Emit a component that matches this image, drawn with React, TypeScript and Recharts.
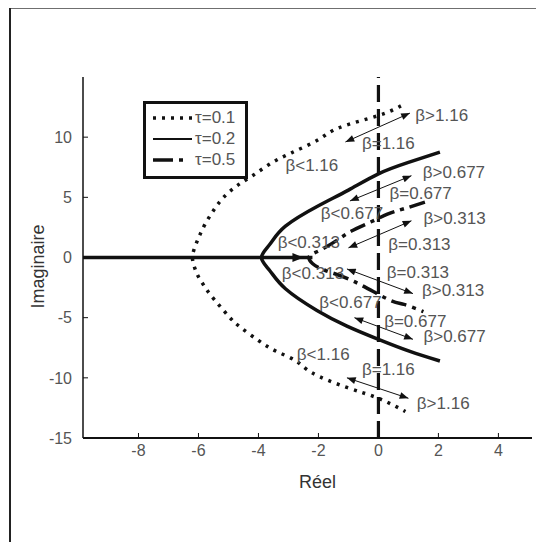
import { ComposedChart, Label, Legend, Line, ReferenceLine, Scatter, XAxis, YAxis } from "recharts"

type Pt = { x: number; y: number }

// tau = 0.1 (dotted), upper end -> vertex -> lower end
const tau01: Pt[] = [
  { x: 0.75, y: 12.6 }, { x: 0, y: 11.8 }, { x: -1.3, y: 10.8 }, { x: -2.0, y: 9.8 },
  { x: -2.9, y: 8.7 }, { x: -3.6, y: 7.8 }, { x: -4.2, y: 6.8 }, { x: -4.75, y: 5.9 },
  { x: -5.2, y: 4.9 }, { x: -5.5, y: 3.9 }, { x: -5.75, y: 2.9 }, { x: -5.95, y: 1.9 },
  { x: -6.1, y: 1.0 }, { x: -6.2, y: 0 }, { x: -6.12, y: -0.9 }, { x: -6.0, y: -1.6 },
  { x: -5.8, y: -2.4 }, { x: -5.6, y: -3.1 }, { x: -5.3, y: -4.0 }, { x: -4.95, y: -5.0 },
  { x: -4.6, y: -5.8 }, { x: -4.0, y: -6.9 }, { x: -3.4, y: -7.8 }, { x: -2.75, y: -8.6 },
  { x: -2.2, y: -9.6 }, { x: -1.05, y: -10.8 }, { x: 0, y: -11.7 }, { x: 0.9, y: -12.8 },
]

// tau = 0.2 (solid)
const tau02: Pt[] = [
  { x: 2.05, y: 8.75 }, { x: 1, y: 7.9 }, { x: 0, y: 6.95 }, { x: -1, y: 5.6 },
  { x: -2, y: 4.3 }, { x: -3.1, y: 2.6 }, { x: -3.62, y: 1.1 },
  { x: -3.9, y: 0 }, { x: -3.62, y: -1.1 }, { x: -3.1, y: -2.6 },
  { x: -2.05, y: -4.4 }, { x: -1.05, y: -5.7 }, { x: 0, y: -6.8 }, { x: 1.05, y: -7.8 },
  { x: 2.05, y: -8.6 },
]

// real axis part of the locus
const realAxis: Pt[] = [{ x: -9.85, y: 0 }, { x: -2.2, y: 0 }]

// tau = 0.5 (dash-dot)
const tau05: Pt[] = [
  { x: 1.55, y: 4.6 }, { x: 0.85, y: 4.05 }, { x: 0.3, y: 3.6 }, { x: -0.3, y: 2.9 },
  { x: -0.9, y: 2.2 }, { x: -1.4, y: 1.4 }, { x: -1.95, y: 0.6 }, { x: -2.3, y: 0.1 },
  { x: -2.2, y: -0.5 }, { x: -1.75, y: -1.1 }, { x: -0.85, y: -1.95 }, { x: 0.3, y: -3.45 },
  { x: 0.85, y: -3.9 }, { x: 1.5, y: -4.5 },
]

const arrows: [Pt, Pt][] = [
  [{ x: -1.1, y: 9.6 }, { x: 1.05, y: 12.0 }],
  [{ x: -0.95, y: 4.7 }, { x: 1.1, y: 6.8 }],
  [{ x: -1.0, y: 0.8 }, { x: 1.1, y: 3.05 }],
  [{ x: -1.05, y: -0.95 }, { x: 1.15, y: -3.0 }],
  [{ x: -0.8, y: -5.0 }, { x: 1.15, y: -6.8 }],
  [{ x: -1.05, y: -10.0 }, { x: 1.0, y: -11.7 }],
]

const realAxisArrow: [Pt, Pt] = [{ x: -3.2, y: 0 }, { x: -2.5, y: 0 }]

const betaLabels = [
  { x: 1.23, y: 11.8, text: "β>1.16" },
  { x: -0.55, y: 9.45, text: "β=1.16" },
  { x: -3.1, y: 7.65, text: "β<1.16" },
  { x: 1.48, y: 7.1, text: "β>0.677" },
  { x: 0.37, y: 5.3, text: "β=0.677" },
  { x: -1.92, y: 3.67, text: "β<0.677" },
  { x: 1.5, y: 3.2, text: "β>0.313" },
  { x: 0.33, y: 1.06, text: "β=0.313" },
  { x: -3.36, y: 1.25, text: "β<0.313" },
  { x: -3.22, y: -1.33, text: "β<0.313" },
  { x: 0.28, y: -1.25, text: "β=0.313" },
  { x: 1.45, y: -2.78, text: "β>0.313" },
  { x: -1.97, y: -3.75, text: "β<0.677" },
  { x: 0.19, y: -5.28, text: "β=0.677" },
  { x: 1.5, y: -6.6, text: "β>0.677" },
  { x: -2.72, y: -8.05, text: "β<1.16" },
  { x: -0.55, y: -9.3, text: "β=1.16" },
  { x: 1.28, y: -12.1, text: "β>1.16" },
]

const xTicks = [-8, -6, -4, -2, 0, 2, 4]
const yTicks = [-15, -10, -5, 0, 5, 10]
const legendLabels = ["τ=0.1", "τ=0.2", "τ=0.5"]
const xDomain: [number, number] = [-9.85, 5.12]
const yDomain: [number, number] = [-15, 15]

const FONT = "'Liberation Sans', Arial, Helvetica, sans-serif"
const INK = "#111"
const TEXT = "#555"
const dotted = "3 6"
const dashDot = "16 6 4 6"
const legendDash = [dotted, undefined, "20 6 4 40"]

const tickStyle = { fontSize: 16, fill: TEXT, fontFamily: FONT }

const renderLegend = () => (
  <div
    style={{
      width: 99,
      height: 69,
      border: `3.5px solid ${INK}`,
      paddingTop: 3,
      boxSizing: "content-box",
      background: "#fff",
      fontFamily: FONT,
      fontSize: 17,
      color: TEXT,
    }}
  >
    {legendLabels.map((label, i) => (
      <div key={label} style={{ display: "flex", alignItems: "center", height: 21 }}>
        <svg width={46} height={10} style={{ marginLeft: 7 }}>
          <line
            x1={0}
            y1={5}
            x2={39}
            y2={5}
            stroke={INK}
            strokeWidth={i === 1 ? 2 : 3.5}
            strokeDasharray={legendDash[i]}
          />
        </svg>
        <span style={{ marginLeft: -4 }}>{label}</span>
      </div>
    ))}
  </div>
)

const arrowShape = (props: any) => (
  <line
    x1={props.x1}
    y1={props.y1}
    x2={props.x2}
    y2={props.y2}
    stroke={INK}
    strokeWidth={1}
    markerStart="url(#arrowHead)"
    markerEnd="url(#arrowHead)"
  />
)

const realArrowShape = (props: any) => (
  <line
    x1={props.x1}
    y1={props.y1}
    x2={props.x2}
    y2={props.y2}
    stroke={INK}
    strokeWidth={3}
    markerEnd="url(#bigHead)"
  />
)

const labelShape = (props: any) => (
  <text
    x={props.cx}
    y={props.cy}
    dominantBaseline="central"
    fontSize={17}
    fontFamily={FONT}
    fill={TEXT}
  >
    {props.payload.text}
  </text>
)

const yTitle = (props: any) => {
  const vb = props.viewBox
  const cx = vb.x + 5
  const cy = vb.y + vb.height / 2 + 9
  return (
    <text
      x={cx}
      y={cy}
      transform={`rotate(-90 ${cx} ${cy})`}
      textAnchor="middle"
      dominantBaseline="central"
      fontSize={18}
      fontFamily={FONT}
      fill="#333"
    >
      Imaginaire
    </text>
  )
}

const xTitle = (props: any) => {
  const vb = props.viewBox
  return (
    <text
      x={vb.x + vb.width / 2 + 10}
      y={vb.y + 44}
      textAnchor="middle"
      dominantBaseline="central"
      fontSize={18}
      fontFamily={FONT}
      fill="#333"
    >
      Réel
    </text>
  )
}

export default function App() {
  return (
    <div style={{ position: "relative", width: 536, height: 534 }}>
      <ComposedChart
        width={536}
        height={540}
        margin={{ top: 69, right: 12, bottom: 70, left: 25 }}
      >
        <defs>
          <marker
            id="arrowHead"
            viewBox="0 0 10 8"
            markerUnits="userSpaceOnUse"
            markerWidth={10}
            markerHeight={7}
            refX={10}
            refY={4}
            orient="auto-start-reverse"
          >
            <path d="M0,0 L10,4 L0,8 z" fill={INK} />
          </marker>
          <marker
            id="bigHead"
            viewBox="0 0 10 8"
            markerUnits="userSpaceOnUse"
            markerWidth={11}
            markerHeight={9}
            refX={10}
            refY={4}
            orient="auto"
          >
            <path d="M0,0 L10,4 L0,8 z" fill={INK} />
          </marker>
        </defs>
        <XAxis
          xAxisId={0}
          dataKey="x"
          type="number"
          domain={xDomain}
          ticks={xTicks}
          allowDataOverflow
          height={40}
          tickSize={-5}
          tickMargin={12}
          tick={tickStyle}
          axisLine={{ stroke: INK, strokeWidth: 2 }}
          tickLine={{ stroke: INK }}
        >
          <Label content={xTitle} />
        </XAxis>
        <XAxis
          xAxisId="top"
          orientation="top"
          dataKey="x"
          type="number"
          domain={xDomain}
          ticks={xTicks}
          allowDataOverflow
          height={0}
          tickSize={-5}
          tick={false}
          axisLine={{ stroke: "#444" }}
          tickLine={{ stroke: INK }}
        />
        <YAxis
          yAxisId={0}
          type="number"
          domain={yDomain}
          ticks={yTicks}
          allowDataOverflow
          width={50}
          tickSize={-5}
          tickMargin={16}
          tick={tickStyle}
          axisLine={{ stroke: INK, strokeWidth: 1.5 }}
          tickLine={{ stroke: INK }}
        >
          <Label content={yTitle} />
        </YAxis>
        <YAxis
          yAxisId="right"
          orientation="right"
          type="number"
          domain={yDomain}
          ticks={yTicks}
          allowDataOverflow
          width={0}
          tickSize={-5}
          tick={false}
          axisLine={{ stroke: "#555", strokeWidth: 1.5 }}
          tickLine={{ stroke: INK }}
        />
        <ReferenceLine x={0} stroke={INK} strokeWidth={3.2} strokeDasharray="17 7" />
        <Line
          data={realAxis}
          dataKey="y"
          type="linear"
          stroke={INK}
          strokeWidth={3.5}
          dot={false}
          isAnimationActive={false}
        />
        <Line
          data={tau01}
          dataKey="y"
          type="natural"
          stroke={INK}
          strokeWidth={3.5}
          strokeDasharray={dotted}
          dot={false}
          isAnimationActive={false}
        />
        <Line
          data={tau02}
          dataKey="y"
          type="natural"
          stroke={INK}
          strokeWidth={3.5}
          dot={false}
          isAnimationActive={false}
        />
        <Line
          data={tau05}
          dataKey="y"
          type="natural"
          stroke={INK}
          strokeWidth={3.5}
          strokeDasharray={dashDot}
          dot={false}
          isAnimationActive={false}
        />
        {arrows.map((seg, i) => (
          <ReferenceLine key={i} segment={seg} shape={arrowShape} />
        ))}
        <ReferenceLine segment={realAxisArrow} shape={realArrowShape} />
        <Scatter data={betaLabels} dataKey="y" shape={labelShape} isAnimationActive={false} />
        <Legend
          content={renderLegend}
          layout="horizontal"
          verticalAlign="middle"
          align="center"
          wrapperStyle={{ left: 135, top: 93, width: "auto", height: "auto" }}
        />
      </ComposedChart>
      {/* scanned page frame: top and left edges only */}
      <div
        style={{
          position: "absolute",
          left: 1,
          top: -1,
          width: 535,
          height: 2,
          background: "#6f6f6f",
          pointerEvents: "none",
          zIndex: 5,
        }}
      />
      <div
        style={{
          position: "absolute",
          left: 1,
          top: -1,
          width: 2,
          height: 542,
          background: "#222",
          pointerEvents: "none",
          zIndex: 5,
        }}
      />
    </div>
  )
}
